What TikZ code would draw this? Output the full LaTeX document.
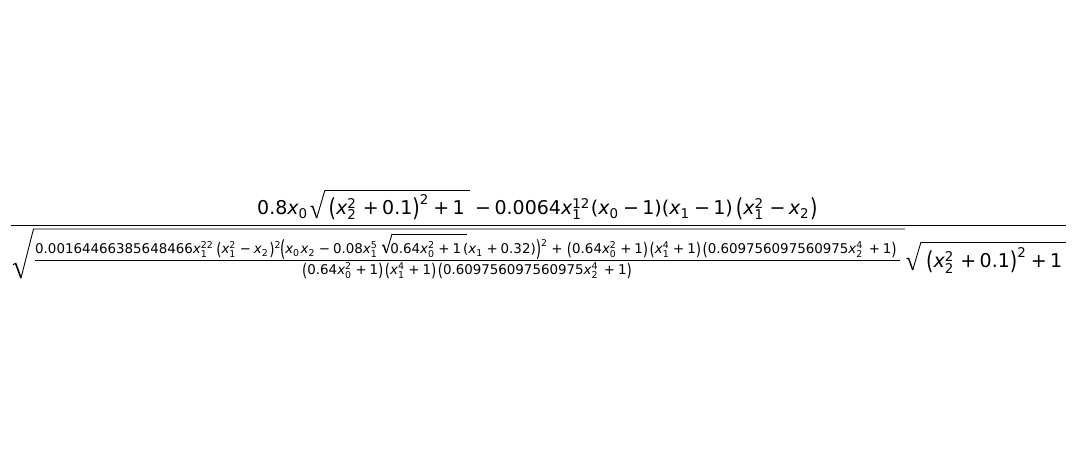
\documentclass[tikz,border=0pt]{standalone}
\usepackage[no-math]{fontspec}
\setmainfont{DejaVu Sans}
\DeclareMathSizes{19}{19}{13.4}{10}
\DeclareMathSizes{13.4}{13.4}{9.4}{7}
\DeclareSymbolFont{dvrm}{TU}{\rmdefault}{m}{n}
\DeclareSymbolFont{dvit}{TU}{\rmdefault}{m}{it}
\DeclareMathSymbol{x}{\mathalpha}{dvit}{`x}
\DeclareMathSymbol{.}{\mathord}{dvrm}{`.}
\DeclareMathSymbol{+}{\mathbin}{dvrm}{`+}
\DeclareMathSymbol{(}{\mathopen}{dvrm}{`(}
\DeclareMathSymbol{)}{\mathclose}{dvrm}{`)}
\DeclareMathSymbol{0}{\mathalpha}{dvrm}{`0}
\DeclareMathSymbol{1}{\mathalpha}{dvrm}{`1}
\DeclareMathSymbol{2}{\mathalpha}{dvrm}{`2}
\DeclareMathSymbol{3}{\mathalpha}{dvrm}{`3}
\DeclareMathSymbol{4}{\mathalpha}{dvrm}{`4}
\DeclareMathSymbol{5}{\mathalpha}{dvrm}{`5}
\DeclareMathSymbol{6}{\mathalpha}{dvrm}{`6}
\DeclareMathSymbol{7}{\mathalpha}{dvrm}{`7}
\DeclareMathSymbol{8}{\mathalpha}{dvrm}{`8}
\DeclareMathSymbol{9}{\mathalpha}{dvrm}{`9}
\AtBeginDocument{\Umathcode`\-="2 \symdvrm "2212 \medmuskip=3.6mu \scriptspace=1.5pt}
\newcommand{\lpar}{\mathopen{\smash{\mbox{\raisebox{-.095em}{\scalebox{1}[1.3]{(}}}}}}
\newcommand{\rpar}{\mathclose{\smash{\mbox{\raisebox{-.095em}{\scalebox{1}[1.3]{)}}}}}}
\newcommand{\Lpar}{\mathopen{\smash{\mbox{\raisebox{-.205em}{\scalebox{1}[1.65]{(}}}}}}
\newcommand{\Rpar}{\mathclose{\smash{\mbox{\raisebox{-.205em}{\scalebox{1}[1.65]{)}}}}}}
\begin{document}
\begin{tikzpicture}[x=1pt,y=1pt,
            frac/.style={inner sep=0,anchor=base west},
            big/.style={frac,font=\fontsize{19}{23}\selectfont},
            small/.style={frac,font=\fontsize{13.4}{16}\selectfont},
            bar/.style={line width=.9pt},
            root/.style={line width=.9pt,line join=miter}
          ]
          \useasboundingbox (0,0) rectangle (1076,470);

          %numerator
          \node[big] (top) at (257,255.5) {$0.8x_0\kern20pt\lpar x_2^2\kern2pt+0.1\rpar^2+1\kern7pt-0.0064x_1^{12}(x_0-1)(x_1-1)\kern3pt\lpar x_1^2\kern1.5pt-x_2\rpar$};
          \coordinate (barl) at (11,245);
          \coordinate (barr) at (1066,245);
          \draw[bar] (barl) -- (barr);

          %outer root
          \draw[root] (13,205) -- (15.5,207);
          \draw[root,line width=1.6pt] (15.5,207) -- (21,192);
          \draw[root] (21,192) -- (33.5,241) -- (905,241);

          %inner fraction
          \node[small] (inner) at (35,216) {$0.00164466385648466x_1^{22}\kern2pt\lpar x_1^2-x_2\rpar^2\kern-2pt\Lpar x_0x_2-0.08x_1^5\kern12pt0.64x_0^2+1\kern2pt(x_1+0.32)\Rpar^2+\kern1.5pt\lpar 0.64x_0^2+1\rpar\kern1.5pt\lpar x_1^4+1\rpar\kern1.5pt\lpar 0.609756097560975x_2^4\kern2pt+1\rpar$};
          \node[small] (under) at (302,195) {$\lpar 0.64x_0^2+1\rpar\kern1.5pt\lpar x_1^4+1\rpar\kern1.5pt\lpar 0.609756097560975x_2^4\kern2pt+1\rpar$};
          \coordinate (innerl) at (35,210);
          \coordinate (innerr) at (900,210);
          \draw[bar] (innerl) -- (innerr);

          %last root
          \node[big] (last) at (926,202) {$\lpar x_2^2\kern2pt+0.1\rpar^2+1$};

          %small roots
          \foreach \rx/\ry/\rz/\rs in {325/280/470/1,921/228/1066/1,392/236/467/.68} {
            \draw[bar] (\rx,\ry) -- (\rz,\ry);
            \begin{scope}[shift={(\rx,\ry)},scale=\rs]
              \draw[root] (-14.5,-17) -- (-12.5,-16);
              \draw[root,line width=1.4pt] (-12.5,-16) -- (-8.3,-28);
              \draw[root] (-8.3,-28) -- (0,0);
            \end{scope}
          }
        \end{tikzpicture}
\end{document}
